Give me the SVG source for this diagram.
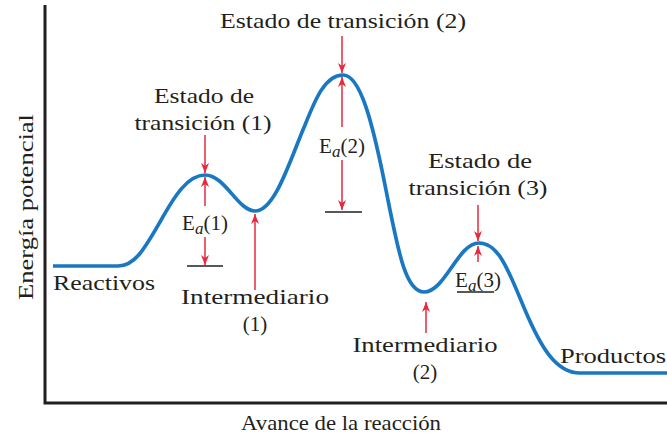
<svg xmlns="http://www.w3.org/2000/svg" width="667" height="437" viewBox="0 0 667 437">
<style>
text{font-family:"Liberation Serif","DejaVu Serif",serif;font-size:21px;fill:#231f20}
.c{text-anchor:middle}
.ar{stroke:#e8283c;stroke-width:1.5;fill:none;marker-end:url(#ah)}
.lv{stroke:#231f20;stroke-width:1.6}
</style>
<defs>
<marker id="ah" viewBox="0 0 10 10" refX="10" refY="5" markerWidth="10" markerHeight="10" markerUnits="userSpaceOnUse" orient="auto">
<path d="M0,1 L10,5 L0,9 L3,5 Z" fill="#e8283c"/>
</marker>
</defs>
<g id="axes" fill="none" stroke="#231f20" stroke-width="3">
<path d="M45,5 V403 H667"/>
</g>
<g id="curve">
<path d="M53,266 H118 C135,266 145,248 160,222 C175,195 188,175 205,175 C225,175 238,211 255,211 C275,211 290,160 305,125 C315,100 325,75 343,75 C360,75 372,120 385,185 C398,250 405,292 424,292 C445,292 458,243 479,243 C500,243 510,275 525,310 C540,345 555,373 580,373 H667" fill="none" stroke="#1a78c2" stroke-width="3.7"/>
</g>
<g id="connectors">
<line class="ar" x1="205" y1="135" x2="205" y2="173"/>
<line class="ar" x1="205" y1="206" x2="205" y2="177"/>
<line class="ar" x1="205" y1="237" x2="205" y2="265"/>
<line class="ar" x1="255" y1="290" x2="255" y2="214"/>
<line class="ar" x1="342" y1="36" x2="342" y2="73"/>
<line class="ar" x1="342" y1="127" x2="342" y2="77"/>
<line class="ar" x1="342" y1="160" x2="342" y2="210"/>
<line class="ar" x1="478" y1="205" x2="478" y2="241"/>
<line class="ar" x1="478" y1="262" x2="478" y2="246"/>
<line class="ar" x1="426" y1="333" x2="426" y2="302"/>
</g>
<g id="levels">
<line class="lv" x1="187" y1="266" x2="223" y2="266"/>
<line class="lv" x1="325" y1="212" x2="362" y2="212"/>
<line class="lv" x1="457" y1="292" x2="494" y2="292"/>
</g>
<g id="ts1"><text class="c" x="204" y="103" textLength="100" lengthAdjust="spacingAndGlyphs">Estado de</text><text class="c" x="203" y="130" textLength="137" lengthAdjust="spacingAndGlyphs">transición (1)</text></g>
<g id="ts2"><text class="c" x="343" y="28" textLength="246" lengthAdjust="spacingAndGlyphs">Estado de transición (2)</text></g>
<g id="ts3"><text class="c" x="480" y="168" textLength="104" lengthAdjust="spacingAndGlyphs">Estado de</text><text class="c" x="478" y="195" textLength="139" lengthAdjust="spacingAndGlyphs">transición (3)</text></g>
<g id="ea1"><text class="c" x="205" y="230">E<tspan font-style="italic" font-size="17" dy="4">a</tspan><tspan dy="-4">(1)</tspan></text></g>
<g id="ea2"><text class="c" x="342" y="153">E<tspan font-style="italic" font-size="17" dy="4">a</tspan><tspan dy="-4">(2)</tspan></text></g>
<g id="ea3"><text class="c" x="478" y="287">E<tspan font-style="italic" font-size="17" dy="4">a</tspan><tspan dy="-4">(3)</tspan></text></g>
<g id="reactivos"><text x="53" y="290" textLength="102" lengthAdjust="spacingAndGlyphs">Reactivos</text></g>
<g id="int1"><text class="c" x="255" y="304" textLength="148" lengthAdjust="spacingAndGlyphs">Intermediario</text><text class="c" x="255" y="331">(1)</text></g>
<g id="int2"><text class="c" x="425" y="352" textLength="145" lengthAdjust="spacingAndGlyphs">Intermediario</text><text class="c" x="425" y="379">(2)</text></g>
<g id="productos"><text x="560" y="363" textLength="106" lengthAdjust="spacingAndGlyphs">Productos</text></g>
<g id="xlabel"><text class="c" x="341" y="430" textLength="200" lengthAdjust="spacingAndGlyphs">Avance de la reacción</text></g>
<g id="ylabel"><text class="c" transform="translate(33,207) rotate(-90)" textLength="186" lengthAdjust="spacingAndGlyphs">Energía potencial</text></g>
</svg>
